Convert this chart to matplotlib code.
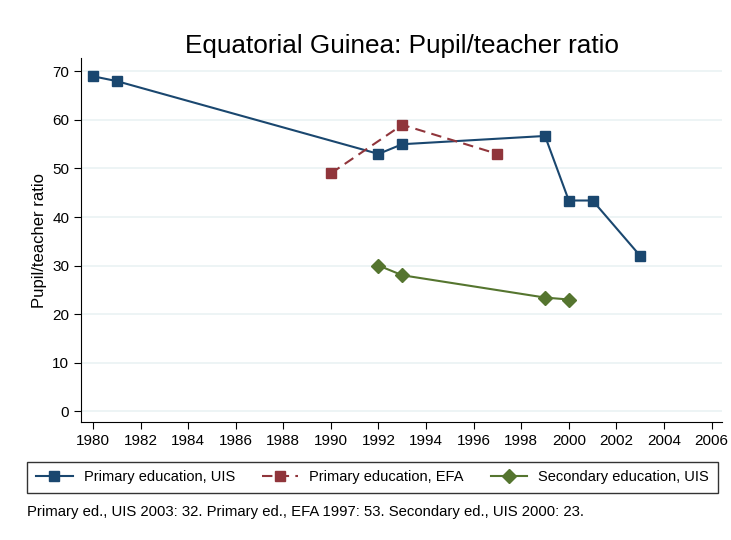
import matplotlib
matplotlib.use("Agg")
import matplotlib.pyplot as plt

plt.rcParams["font.family"] = ["Liberation Sans", "DejaVu Sans"]

# primary education, UIS
uis_years = [1980, 1981, 1992, 1993, 1999, 2000, 2001, 2003]
uis_ratio = [69, 68, 53, 55, 56.7, 43.4, 43.4, 32]
# primary education, EFA
efa_years = [1990, 1993, 1997]
efa_ratio = [49, 59, 53]
# secondary education, UIS
sec_years = [1992, 1993, 1999, 2000]
sec_ratio = [30, 28, 23.4, 23]

x_ticks = list(range(1980, 2007, 2))
y_ticks = list(range(0, 71, 10))

NAVY = "#1a476f"
MAROON = "#90353b"
GREEN = "#55752f"

fig = plt.figure(figsize=(7.31, 5.40), dpi=100)
ax = fig.add_axes([0.111, 0.218, 0.877, 0.674])

ax.plot(uis_years, uis_ratio, color=NAVY, lw=1.5, marker="s", ms=7,
        label="Primary education, UIS")
ax.plot(efa_years, efa_ratio, color=MAROON, lw=1.5, ls=(0, (5, 3)), marker="s", ms=7,
        label="Primary education, EFA")
ax.plot(sec_years, sec_ratio, color=GREEN, lw=1.5, marker="D", ms=7.5,
        label="Secondary education, UIS")

ax.set_xlim(1979.5, 2006.45)
ax.set_ylim(-2.3, 72.7)
ax.set_xticks(x_ticks)
ax.set_yticks(y_ticks)
ax.tick_params(direction="out", length=5, labelsize=11, colors="black")
ax.grid(axis="y", color="#eaf2f3", lw=1.2)
ax.set_axisbelow(True)
for side in ("top", "right"):
    ax.spines[side].set_visible(False)
ax.set_ylabel("Pupil/teacher ratio", fontsize=12)
ax.set_title("Equatorial Guinea: Pupil/teacher ratio", fontsize=18.8, pad=1)

leg = fig.legend(loc="center", bbox_to_anchor=(0.5096, 0.116), ncol=3, fontsize=10.5,
                 frameon=True, fancybox=False, edgecolor="black",
                 handlelength=2.5, handletextpad=0.75, columnspacing=1.85,
                 borderpad=0.6)
leg.get_frame().set_linewidth(1.0)

fig.text(0.037, 0.052, "Primary ed., UIS 2003: 32. Primary ed., EFA 1997: 53. "
         "Secondary ed., UIS 2000: 23.", fontsize=10.75, va="center")

fig.savefig("out.png", dpi=100)
